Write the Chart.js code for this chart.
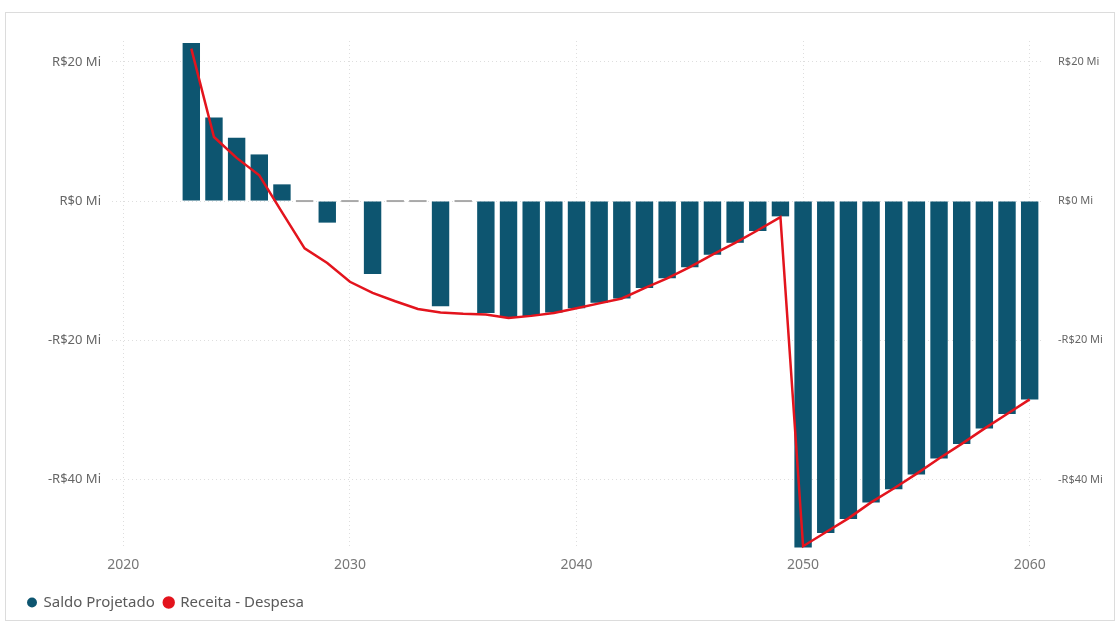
<!DOCTYPE html>
<html>
<head>
<meta charset="utf-8">
<script src="https://cdn.jsdelivr.net/npm/chart.js@4.4.1/dist/chart.umd.min.js"></script>
<style>
  body { margin: 0; background: #fff; }
  #frame { position: absolute; left: 5px; top: 12px; width: 1108px; height: 607px; border: 1px solid #dcdcdc; }
  #holder { position: absolute; left: 0; top: 0; width: 1117px; height: 624px; }
</style>
</head>
<body>
<div id="frame"></div>
<div id="holder"><canvas id="chart" width="1117" height="624"></canvas></div>
<script>
// years shown in the chart
var years = [2023, 2024, 2025, 2026, 2027, 2028, 2029, 2030, 2031, 2032,
             2033, 2034, 2035, 2036, 2037, 2038, 2039, 2040, 2041, 2042,
             2043, 2044, 2045, 2046, 2047, 2048, 2049, 2050, 2051, 2052,
             2053, 2054, 2055, 2056, 2057, 2058, 2059, 2060];

// Saldo Projetado (R$ milhoes)
var saldo = [22.7, 12.0, 9.1, 6.7, 2.4, 0, -3.1, 0, -10.5, 0,
             0, -15.1, 0, -16.1, -16.7, -16.5, -16.0, -15.4, -14.6, -14.0,
             -12.5, -11.1, -9.5, -7.7, -6.0, -4.3, -2.2, -49.8, -47.7, -45.7,
             -43.3, -41.4, -39.3, -37.0, -34.9, -32.7, -30.6, -28.5];

// Receita - Despesa (R$ milhoes)
var receitaDespesa = [21.9, 9.2, 6.2, 3.7, -1.6, -6.8, -8.9, -11.6, -13.2, -14.4,
                      -15.5, -16.0, -16.2, -16.3, -16.8, -16.5, -16.1, -15.4, -14.7, -14.0,
                      -12.5, -11.1, -9.5, -7.7, -6.0, -4.2, -2.3, -49.6, -47.6, -45.6,
                      -43.3, -41.3, -39.2, -37.0, -34.9, -32.7, -30.6, -28.5];

// tick labels
var xTicks = [2020, 2030, 2040, 2050, 2060];
var yTicks = [-40, -20, 0, 20];

var barColor = "#0d5570";
var lineColor = "#e3141d";

function fmtMi(v) {
    return (v < 0 ? "-R$" : "R$") + Math.abs(v) + " Mi";
}

var saldoPts = years.map(function(y, i) { return {x: y, y: saldo[i]}; });
var linePts = years.map(function(y, i) { return {x: y, y: receitaDespesa[i]}; });

var fontFam = "'Noto Sans', 'Open Sans', sans-serif";

var ctx = document.getElementById("chart").getContext("2d");

new Chart(ctx, {
    type: "bar",
    data: {
        datasets: [
            {
                type: "line",
                label: "Receita - Despesa",
                data: linePts,
                yAxisID: "y2",
                borderColor: lineColor,
                backgroundColor: lineColor,
                borderWidth: 2.5,
                pointRadius: 0,
                tension: 0,
                order: 0
            },
            {
                label: "Saldo Projetado",
                data: saldoPts,
                yAxisID: "y",
                backgroundColor: function(c) {
                    return c.raw && c.raw.y === 0 ? "#a9a9a9" : barColor;
                },
                minBarLength: 2,
                barPercentage: 0.96,
                categoryPercentage: 0.8,
                order: 1
            }
        ]
    },
    options: {
        responsive: false,
        animation: false,
        layout: { padding: { left: 18, right: 0, top: 41, bottom: 4 } },
        plugins: {
            legend: {
                position: "bottom",
                align: "start",
                reverse: true,
                labels: {
                    usePointStyle: true,
                    pointStyle: "circle",
                    boxWidth: 8,
                    boxHeight: 7,
                    padding: 10,
                    color: "#5a5a5a",
                    font: { family: fontFam, size: 15 }
                }
            },
            tooltip: { enabled: false }
        },
        scales: {
            x: {
                type: "linear",
                offset: false,
                min: 2019.5,
                max: 2060.5,
                afterBuildTicks: function(s) {
                    s.ticks = xTicks.map(function(v) { return {value: v}; });
                },
                afterFit: function(s) { s.height = 36; },
                ticks: {
                    padding: 8,
                    color: "#777",
                    font: { family: fontFam, size: 14 },
                    callback: function(v) { return String(v); }
                },
                grid: { color: "#dedede", offset: false, drawTicks: false },
                border: { display: false, dash: [1, 3] }
            },
            y: {
                position: "left",
                min: -50,
                max: 23,
                afterBuildTicks: function(s) {
                    s.ticks = yTicks.map(function(v) { return {value: v}; });
                },
                afterFit: function(s) { s.width = 94; },
                ticks: {
                    padding: 11,
                    color: "#666",
                    font: { family: fontFam, size: 13 },
                    callback: function(v) { return fmtMi(v); }
                },
                grid: { color: "#dedede", drawTicks: false },
                border: { display: false, dash: [1, 3] }
            },
            y2: {
                position: "right",
                display: true,
                min: -50,
                max: 23,
                afterBuildTicks: function(s) {
                    s.ticks = yTicks.map(function(v) { return {value: v}; });
                },
                afterFit: function(s) { s.width = 76; },
                ticks: {
                    padding: 9,
                    color: "#666",
                    font: { family: fontFam, size: 11 },
                    callback: function(v) { return fmtMi(v); }
                },
                grid: { display: false },
                border: { display: false }
            }
        }
    }
});
</script>
</body>
</html>
